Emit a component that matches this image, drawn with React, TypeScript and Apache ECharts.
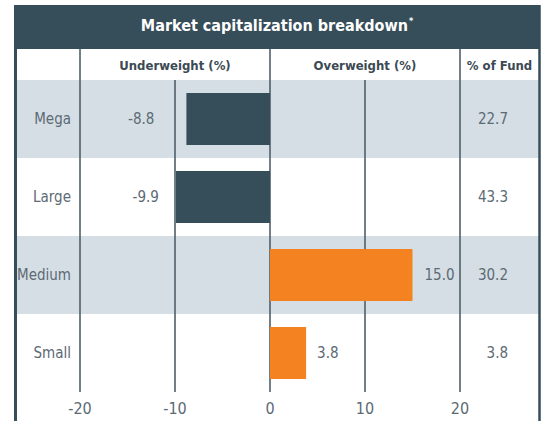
import React, { useEffect, useRef } from "react";
import * as echarts from "echarts";

const categories = ["Mega", "Large", "Medium", "Small"];
const relativeWeights = [-8.8, -9.9, 15.0, 3.8];
const fundShares = [22.7, 43.3, 30.2, 3.8];
const xTickMin = -20;
const xTickMax = 20;
const xTickStep = 10;
const titleText = "Market capitalization breakdown";
const headerLabels = ["Underweight (%)", "Overweight (%)", "% of Fund"];

const FONT = "'DejaVu Sans Condensed', 'DejaVu Sans', sans-serif";
const DARK = "#364d5a";
const ORANGE = "#f58220";
const BAND = "#d5dee5";
const LINE = "#4e5f6a";
const TEXT = "#5c6a74";
const FS = 15;

export default function App() {
  const ref = useRef<HTMLDivElement>(null);
  useEffect(() => {
    if (!ref.current) return;
    const chart = echarts.init(ref.current, undefined, { renderer: "svg" });
    const gridLeft = 80, gridRight = 460, gridTop = 80, gridBottom = 392;
    const rowH = (gridBottom - gridTop) / categories.length;
    const labelDist = [32, 17, 12, 11];

    const bands = categories.map((c, i) => ({
      type: "rect",
      z: -10,
      shape: { x: 17, y: gridTop + i * rowH, width: 522, height: rowH },
      style: { fill: i % 2 === 0 ? BAND : "#ffffff" },
    }));

    const headerStyle = { fill: "#3b4a54", fontFamily: FONT, fontWeight: "bold", fontSize: 13, align: "center", verticalAlign: "middle" };

    const option: any = {
      animation: false,
      backgroundColor: "#ffffff",
      grid: { left: gridLeft, right: 545 - gridRight, top: gridTop, bottom: 421 - gridBottom },
      xAxis: {
        type: "value",
        min: xTickMin,
        max: xTickMax,
        interval: xTickStep,
        axisLine: { show: false },
        axisTick: { show: false },
        splitLine: { show: true, lineStyle: { color: LINE, width: 1.6 } },
        axisLabel: { color: TEXT, fontFamily: FONT, fontSize: FS + 1, margin: 8 },
      },
      yAxis: [
        {
          type: "category",
          data: categories,
          inverse: true,
          axisLine: { show: false },
          axisTick: { show: false },
          splitLine: { show: false },
          axisLabel: { color: TEXT, fontFamily: FONT, fontSize: FS, margin: 9, align: "right" },
        },
        {
          type: "category",
          data: categories,
          inverse: true,
          position: "right",
          axisLine: { show: false },
          axisTick: { show: false },
          splitLine: { show: false },
          axisLabel: {
            color: TEXT,
            fontFamily: FONT,
            fontSize: FS,
            margin: 48,
            align: "right",
            padding: [4, 0, 0, 0],
            formatter: (_v: string, idx: number) => fundShares[idx].toFixed(1),
          },
        },
      ],
      series: [
        {
          type: "bar",
          yAxisIndex: 0,
          barWidth: 52,
          z: 3,
          data: relativeWeights.map((v, i) => ({
            value: v,
            itemStyle: { color: v < 0 ? DARK : ORANGE },
            label: {
              show: true,
              position: v < 0 ? "left" : "right",
              distance: labelDist[i],
              color: TEXT,
              fontFamily: FONT,
              fontSize: FS,
              formatter: () => v.toFixed(1),
            },
          })),
        },
      ],
      graphic: [
        ...bands,
        {
          type: "rect",
          z: 5,
          shape: { x: 14, y: 5, width: 526, height: 44 },
          style: { fill: DARK },
        },
        {
          type: "text",
          z: 6,
          x: 277,
          y: 25,
          style: {
            text: `{t|${titleText}}{s|*}`,
            rich: {
              t: { fill: "#ffffff", fontFamily: FONT, fontWeight: "bold", fontSize: 16 },
              s: { fill: "#ffffff", fontFamily: FONT, fontWeight: "bold", fontSize: 9, verticalAlign: "top", padding: [0, 0, 8, 1] },
            },
            align: "center",
            verticalAlign: "middle",
          },
        },
        { type: "text", z: 6, x: (gridLeft + 270) / 2, y: 65, style: { ...headerStyle, text: headerLabels[0] } },
        { type: "text", z: 6, x: (270 + gridRight) / 2, y: 65, style: { ...headerStyle, text: headerLabels[1] } },
        { type: "text", z: 6, x: (gridRight + 539) / 2, y: 65, style: { ...headerStyle, text: headerLabels[2] } },
        ...[gridLeft, 270, gridRight].map((x) => ({
          type: "line",
          z: 6,
          shape: { x1: x, y1: 49, x2: x, y2: gridTop },
          style: { stroke: LINE, lineWidth: 1.6 },
        })),
        {
          type: "line",
          z: 7,
          shape: { x1: 15.5, y1: 5, x2: 15.5, y2: 421 },
          style: { stroke: DARK, lineWidth: 3 },
        },
        {
          type: "line",
          z: 7,
          shape: { x1: 539.5, y1: 5, x2: 539.5, y2: 421 },
          style: { stroke: DARK, lineWidth: 2.5 },
        },
      ],
    };
    chart.setOption(option);
    return () => chart.dispose();
  }, []);
  return (
    <div
      ref={ref}
      style={{ position: "fixed", left: 0, top: 0, width: 545, height: 421 }}
    />
  );
}
